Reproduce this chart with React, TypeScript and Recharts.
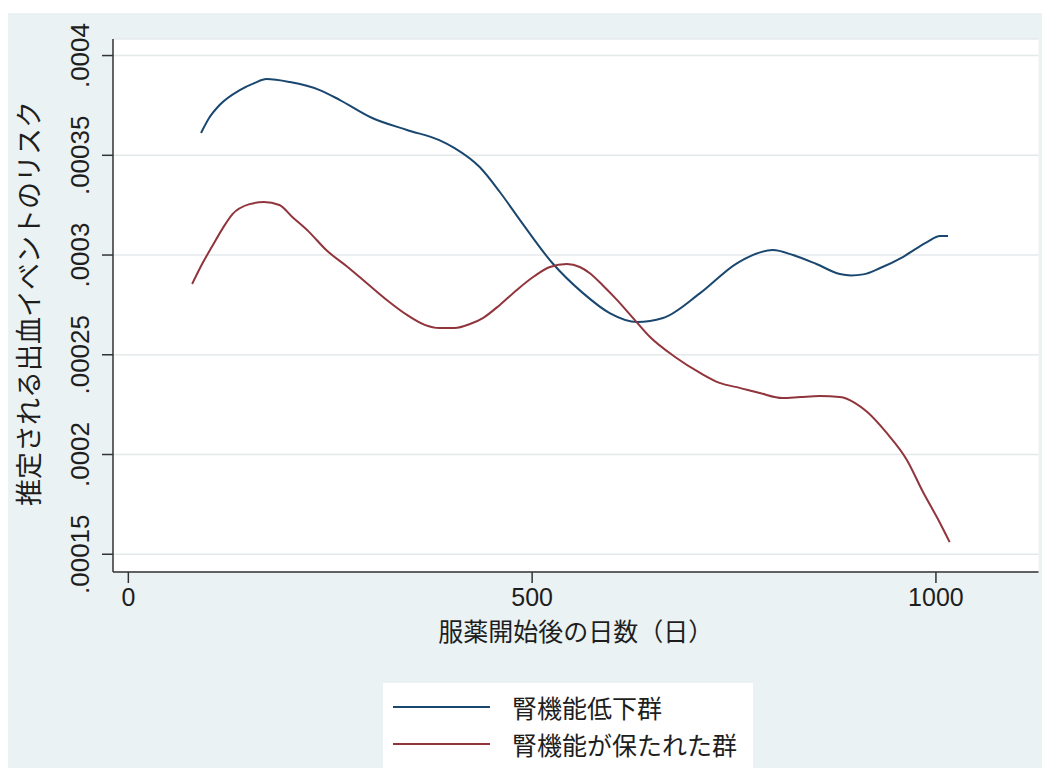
import React from "react";
import { LineChart, Line, XAxis, YAxis, CartesianGrid, Legend } from "recharts";

// ---- data ----
const seriesNames = ["腎機能低下群", "腎機能が保たれた群"];
const seriesColors = ["#1a476f", "#90353b"];

const blueX = [90, 100, 113, 138, 156, 171, 200, 237, 262, 302, 345, 385, 404, 435, 460, 485, 525, 563, 596, 630, 662, 708, 754, 798, 823, 852, 881, 895, 910, 931, 959, 989, 1005, 1015];
const blueY = [0.0003612, 0.0003687, 0.0003752, 0.0003827, 0.0003862, 0.0003882, 0.0003867, 0.0003827, 0.0003777, 0.0003687, 0.0003627, 0.0003576, 0.0003536, 0.0003441, 0.0003316, 0.0003175, 0.000296, 0.0002809, 0.0002709, 0.0002664, 0.0002684, 0.0002809, 0.000296, 0.0003025, 0.0003, 0.0002955, 0.0002905, 0.0002898, 0.0002903, 0.0002935, 0.000299, 0.0003065, 0.0003095, 0.0003095];

const redX = [79, 92, 104, 117, 129, 150, 168, 187, 203, 224, 245, 270, 295, 320, 345, 367, 385, 404, 423, 439, 460, 481, 503, 522, 543, 559, 571, 587, 605, 625, 646, 677, 708, 732, 757, 782, 810, 832, 856, 881, 900, 915, 939, 964, 984, 1005, 1017];
const redY = [0.0002855, 0.000296, 0.0003045, 0.0003135, 0.0003205, 0.0003255, 0.0003266, 0.0003251, 0.0003191, 0.0003115, 0.0003025, 0.0002945, 0.000286, 0.0002775, 0.00027, 0.000265, 0.0002634, 0.0002634, 0.0002654, 0.0002684, 0.000275, 0.0002825, 0.0002895, 0.000294, 0.0002955, 0.000294, 0.000291, 0.000285, 0.0002775, 0.0002684, 0.0002589, 0.0002489, 0.0002409, 0.0002359, 0.0002334, 0.0002308, 0.0002283, 0.0002288, 0.0002293, 0.0002288, 0.0002258, 0.0002213, 0.0002108, 0.0001973, 0.0001812, 0.0001657, 0.0001561];

const xTicks = [0, 500, 1000];
const xTickLabels = ["0", "500", "1000"];
const yTicks = [0.00015, 0.0002, 0.00025, 0.0003, 0.00035, 0.0004];
const yTickLabels = [".00015", ".0002", ".00025", ".0003", ".00035", ".0004"];

const xTitle = "服薬開始後の日数（日）";
const yTitle = "推定される出血イベントのリスク";

const blueData = blueX.map((x, i) => ({ x, v: blueY[i] }));
const redData = redX.map((x, i) => ({ x, v: redY[i] }));

// ---- style ----
const W = 1040;
const H = 763;
const BG = "#eaf2f3";
const TXT = "#1e1e1e";
const NUM_FONT = "'Liberation Sans', Arial, sans-serif";
const CJK_FONT = "'Noto Sans CJK JP', 'Noto Sans', sans-serif";

const fmtY = (v: number) => {
  const i = yTicks.findIndex((t) => Math.abs(t - v) < 1e-9);
  return i >= 0 ? yTickLabels[i] : String(v);
};
const fmtX = (v: number) => {
  const i = xTicks.indexOf(v);
  return i >= 0 ? xTickLabels[i] : String(v);
};

const YTick = (props: any) => {
  const { x, y, payload } = props;
  return (
    <text
      transform={`translate(${x - 11},${y}) rotate(-90)`}
      textAnchor="middle"
      fontSize={26}
      fontFamily={NUM_FONT}
      fill={TXT}
    >
      {fmtY(payload.value)}
    </text>
  );
};

const XTick = (props: any) => {
  const { x, y, payload } = props;
  return (
    <text x={x} y={y + 21} textAnchor="middle" fontSize={25} fontFamily={NUM_FONT} fill={TXT}>
      {fmtX(payload.value)}
    </text>
  );
};

const XTitle = (props: any) => {
  const vb = props.viewBox || {};
  const cx = vb.x + vb.width / 2;
  return (
    <text x={cx} y={628} textAnchor="middle" fontSize={25} fontFamily={CJK_FONT} fill={TXT}>
      {xTitle}
    </text>
  );
};

const YTitle = (props: any) => {
  const vb = props.viewBox || {};
  const cy = vb.y + vb.height / 2;
  return (
    <text
      transform={`translate(31,${cy - 2}) rotate(-90)`}
      textAnchor="middle"
      fontSize={27}
      fontFamily={CJK_FONT}
      fill={TXT}
    >
      {yTitle}
    </text>
  );
};

const LegendBox = (props: any) => {
  const payload = [...(props.payload || [])].sort(
    (a: any, b: any) => seriesNames.indexOf(a.value) - seriesNames.indexOf(b.value)
  );
  return (
    <div style={{ width: 370, height: 85, background: "#fff", position: "relative" }}>
      {payload.map((p: any, i: number) => (
        <React.Fragment key={i}>
          <div
            style={{
              position: "absolute",
              left: 10,
              top: 23 + i * 37,
              width: 97,
              height: 2,
              background: p.color,
            }}
          />
          <div
            style={{
              position: "absolute",
              left: 129,
              top: 24 + i * 37 - 16,
              height: 32,
              lineHeight: "32px",
              fontSize: 25,
              fontFamily: CJK_FONT,
              color: TXT,
              whiteSpace: "nowrap",
            }}
          >
            {p.value}
          </div>
        </React.Fragment>
      ))}
    </div>
  );
};

export default function App() {
  return (
    <div style={{ paddingTop: 5, marginBottom: -8 }}>
      <div style={{ width: W, height: H, background: BG, position: "relative" }}>
        <LineChart width={W} height={H} margin={{ top: 26, right: 9.5, left: 0, bottom: 144 }}>
          <CartesianGrid
            vertical={false}
            horizontal
            stroke="#e4eaec"
            strokeWidth={1.5}
            fill="#ffffff"
            fillOpacity={1}
          />
          <XAxis
            type="number"
            dataKey="x"
            domain={[-19, 1127]}
            ticks={xTicks}
            allowDataOverflow
            height={60}
            tickSize={11}
            tickMargin={2}
            stroke="#333"
            strokeWidth={1.5}
            tick={<XTick />}
            label={<XTitle />}
          />
          <YAxis
            type="number"
            dataKey="v"
            domain={[0.0001411, 0.0004083]}
            ticks={yTicks}
            allowDataOverflow
            width={105}
            tickSize={11}
            tickMargin={2}
            stroke="#333"
            strokeWidth={1.5}
            tick={<YTick />}
            label={<YTitle />}
          />
          <Legend
            layout="vertical"
            align="center"
            verticalAlign="middle"
            itemSorter={null as any}
            wrapperStyle={{ left: 375, top: 670, width: 370, height: 85 }}
            content={<LegendBox />}
          />
          <Line
            data={blueData}
            dataKey="v"
            name={seriesNames[0]}
            type="monotone"
            stroke={seriesColors[0]}
            strokeWidth={2}
            dot={false}
            isAnimationActive={false}
          />
          <Line
            data={redData}
            dataKey="v"
            name={seriesNames[1]}
            type="monotone"
            stroke={seriesColors[1]}
            strokeWidth={2}
            dot={false}
            isAnimationActive={false}
          />
        </LineChart>
      </div>
    </div>
  );
}
